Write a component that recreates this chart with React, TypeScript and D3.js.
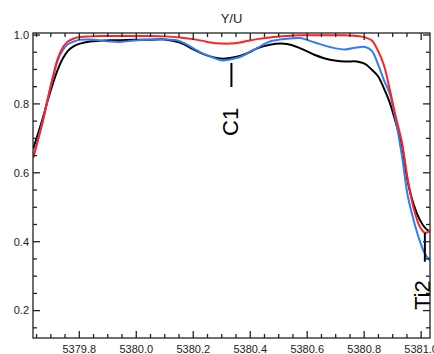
import React from "react";
import * as d3 from "d3";

const wavelength = [
  5379.638, 5379.655, 5379.673, 5379.69, 5379.708, 5379.725, 5379.743, 5379.76, 5379.781, 5379.802,
  5379.838, 5379.873, 5379.908, 5379.943, 5379.995, 5380.048, 5380.101, 5380.153, 5380.199, 5380.234,
  5380.259, 5380.283, 5380.304, 5380.329, 5380.364, 5380.392, 5380.424, 5380.469, 5380.529, 5380.574,
  5380.627, 5380.68, 5380.732, 5380.774, 5380.803, 5380.827, 5380.848, 5380.869, 5380.89, 5380.911,
  5380.932, 5380.953, 5380.974, 5380.995, 5381.013, 5381.031,
];

const blackSeries = [
  0.67, 0.713, 0.762, 0.812, 0.861, 0.901, 0.933, 0.954, 0.968, 0.975,
  0.981, 0.983, 0.985, 0.985, 0.986, 0.986, 0.987, 0.978, 0.959, 0.945,
  0.938, 0.933, 0.931, 0.933, 0.939, 0.948, 0.961, 0.972, 0.974, 0.962,
  0.942, 0.928, 0.923, 0.923, 0.916, 0.899, 0.881, 0.846, 0.803, 0.745,
  0.681, 0.574, 0.507, 0.464, 0.441, 0.429,
];

const blueSeries = [
  0.644, 0.696, 0.754, 0.817, 0.878, 0.928, 0.957, 0.973, 0.981, 0.986,
  0.987, 0.984, 0.981, 0.98, 0.984, 0.987, 0.987, 0.982, 0.962, 0.946,
  0.938, 0.93, 0.926, 0.929, 0.936, 0.948, 0.962, 0.981, 0.989, 0.991,
  0.978, 0.965, 0.958, 0.964, 0.965, 0.954, 0.916, 0.87, 0.829, 0.751,
  0.652, 0.533, 0.461, 0.403, 0.365, 0.345,
];

const redSeries = [
  0.644, 0.696, 0.754, 0.817, 0.881, 0.933, 0.965, 0.981, 0.99, 0.994,
  0.996, 0.997, 0.997, 0.997, 0.997, 0.997, 0.996, 0.993, 0.988, 0.983,
  0.978, 0.976, 0.975, 0.975, 0.978, 0.983, 0.988, 0.993, 0.997, 0.999,
  0.999, 0.999, 0.999, 0.997, 0.993, 0.984, 0.955, 0.913, 0.841, 0.762,
  0.69, 0.58, 0.496, 0.444, 0.426, 0.432,
];

const xMajorTicks = [5379.8, 5380.0, 5380.2, 5380.4, 5380.6, 5380.8, 5381.0];
const yMajorTicks = [0.2, 0.4, 0.6, 0.8, 1.0];

const lineLabels = ["C1", "Ti2"];
const lineWavelengths = [5380.334, 5381.013];
const lineMarkTop = [0.919, 0.426];
const lineMarkBottom = [0.849, 0.342];

const title = "Y/U";

const W = 434;
const H = 354;
const left = 33;
const right = 430;
const top = 33;
const bottom = 338;

export default function App() {
  const x = d3.scaleLinear().domain([5379.6375, 5381.031]).range([left, right]);
  const y = d3.scaleLinear().domain([0.1205, 1.0058]).range([bottom, top]);

  const xMinor = d3.range(5379.65, 5381.03, 0.05).filter(
    (v) => !xMajorTicks.some((m) => Math.abs(m - v) < 1e-6)
  );
  const yMinor = d3.range(0.15, 1.001, 0.05).filter(
    (v) => !yMajorTicks.some((m) => Math.abs(m - v) < 1e-6)
  );

  const line = d3
    .line<number>()
    .x((_, i) => x(wavelength[i]))
    .y((d) => y(d))
    .curve(d3.curveCatmullRom.alpha(0.5));

  const series = [
    { values: blackSeries, color: "#000000" },
    { values: blueSeries, color: "#2f7cf6" },
    { values: redSeries, color: "#ff2222" },
  ];

  const axisColor = "#222";
  const majorLen = 7;
  const minorLen = 4;
  const font = "'Liberation Sans', Arial, Helvetica, sans-serif";

  return (
    <svg
      width={W}
      height={H}
      style={{ position: "absolute", left: 0, top: 0, background: "#fff" }}
    >
      <defs>
        <clipPath id="plotClip">
          <rect x={left} y={top} width={right - left} height={bottom - top} />
        </clipPath>
      </defs>
      <text x={(left + right) / 2} y={23} textAnchor="middle" fontSize={13} fontFamily={font} fill="#222">
        {title}
      </text>

      <g clipPath="url(#plotClip)">
        {series.map((s, i) => (
          <path key={i} d={line(s.values) || ""} fill="none" stroke={s.color} strokeWidth={2} />
        ))}
      </g>

      {lineLabels.map((lab, i) => (
        <g key={lab}>
          <line
            x1={x(lineWavelengths[i])}
            x2={x(lineWavelengths[i])}
            y1={y(lineMarkTop[i])}
            y2={y(lineMarkBottom[i])}
            stroke="#000"
            strokeWidth={2}
          />
        </g>
      ))}
      <text transform={`translate(237.5,136) rotate(-90)`} fontSize={22} fontFamily={font} fill="#000">
        {lineLabels[0]}
      </text>
      <text transform={`translate(429.5,310) rotate(-90)`} fontSize={22} fontFamily={font} fill="#000">
        {lineLabels[1]}
      </text>

      <rect x={left} y={top} width={right - left} height={bottom - top} fill="none" stroke={axisColor} strokeWidth={1.3} />

      {xMajorTicks.map((t) => (
        <g key={"xm" + t}>
          <line x1={x(t)} x2={x(t)} y1={bottom} y2={bottom - majorLen} stroke={axisColor} strokeWidth={1.3} />
          <line x1={x(t)} x2={x(t)} y1={top} y2={top + majorLen} stroke={axisColor} strokeWidth={1.3} />
          <text x={x(t)} y={353} textAnchor="middle" fontSize={11} fontFamily={font} fill="#222">
            {t.toFixed(1)}
          </text>
        </g>
      ))}
      {xMinor.map((t) => (
        <g key={"xn" + t}>
          <line x1={x(t)} x2={x(t)} y1={bottom} y2={bottom - minorLen} stroke={axisColor} strokeWidth={1.3} />
          <line x1={x(t)} x2={x(t)} y1={top} y2={top + minorLen} stroke={axisColor} strokeWidth={1.3} />
        </g>
      ))}
      {yMajorTicks.map((t) => (
        <g key={"ym" + t}>
          <line x1={left} x2={left + majorLen} y1={y(t)} y2={y(t)} stroke={axisColor} strokeWidth={1.3} />
          <line x1={right} x2={right - majorLen} y1={y(t)} y2={y(t)} stroke={axisColor} strokeWidth={1.3} />
          <text x={29} y={y(t)} dy="0.35em" textAnchor="end" fontSize={11} fontFamily={font} fill="#222">
            {t.toFixed(1)}
          </text>
        </g>
      ))}
      {yMinor.map((t) => (
        <g key={"yn" + t}>
          <line x1={left} x2={left + minorLen} y1={y(t)} y2={y(t)} stroke={axisColor} strokeWidth={1.3} />
          <line x1={right} x2={right - minorLen} y1={y(t)} y2={y(t)} stroke={axisColor} strokeWidth={1.3} />
        </g>
      ))}
    </svg>
  );
}
